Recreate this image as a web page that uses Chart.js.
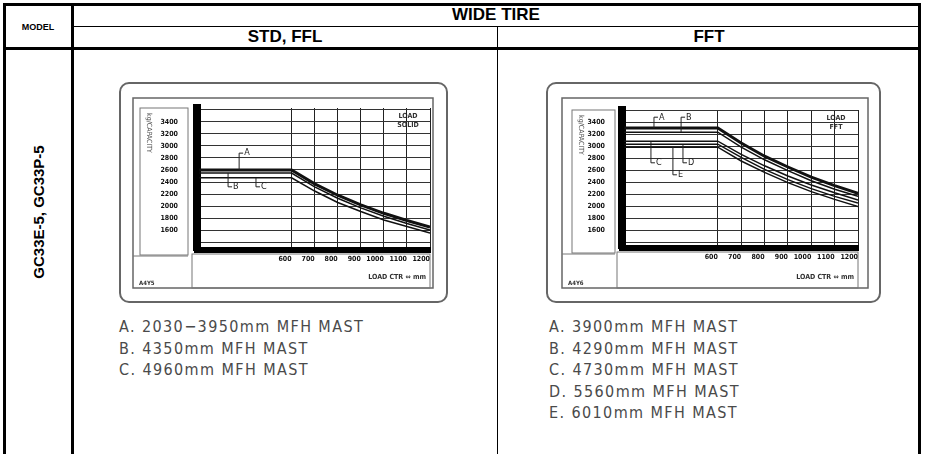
<!DOCTYPE html>
<html>
<head>
<meta charset="utf-8">
<script src="https://cdn.jsdelivr.net/npm/chart.js@4.4.1/dist/chart.umd.min.js"></script>
<style>
body { margin: 0; width: 927px; height: 454px; background: #fff; position: relative; overflow: hidden; font-family: 'Liberation Sans', Arial, sans-serif; }
.ln { position: absolute; background: #000; }
.hd { position: absolute; font-weight: bold; transform: translate(-50%, -50%); white-space: nowrap; color: #000; }
canvas { position: absolute; }
.legend { position: absolute; font-family: 'DejaVu Sans Condensed', sans-serif; font-size: 16px; color: #4a4a4a; line-height: 21.5px; white-space: nowrap; letter-spacing: 1.4px; }
</style>
</head>
<body>
<div class="ln" style="left:3px;top:3px;width:918px;height:3px"></div>
<div class="ln" style="left:3px;top:3px;width:3px;height:451px"></div>
<div class="ln" style="left:918px;top:3px;width:3px;height:451px"></div>
<div class="ln" style="left:71px;top:3px;width:3px;height:451px"></div>
<div class="ln" style="left:74px;top:26px;width:844px;height:1px"></div>
<div class="ln" style="left:3px;top:47px;width:918px;height:3px"></div>
<div class="ln" style="left:497px;top:26px;width:1px;height:428px"></div>

<div class="hd" style="left:38px;top:27px;font-size:9px">MODEL</div>
<div class="hd" style="left:496px;top:15px;font-size:17px">WIDE TIRE</div>
<div class="hd" style="left:285px;top:37px;font-size:17px">STD, FFL</div>
<div class="hd" style="left:709px;top:37px;font-size:17px">FFT</div>
<div class="hd" style="left:38px;top:212px;font-size:15px;transform:translate(-50%,-50%) rotate(-90deg)">GC33E-5, GC33P-5</div>

<canvas id="std" width="334" height="224" style="left:117px;top:81px;width:334px;height:224px"></canvas>
<canvas id="fft" width="337" height="224" style="left:545px;top:81px;width:337px;height:224px"></canvas>
<div class="legend" id="stdLegend" style="left:119px;top:316px"></div>
<div class="legend" id="fftLegend" style="left:549px;top:316px"></div>

<script>
// load center (mm) and capacity (kg)
const loadCenters = [200, 600, 700, 800, 900, 1000, 1100, 1200]
const xTickLabels = [600, 700, 800, 900, 1000, 1100, 1200]
const yTickLabels = [3400, 3200, 3000, 2800, 2600, 2400, 2200, 2000, 1800, 1600]
const yGridValues = [1400, 1600, 1800, 2000, 2200, 2400, 2600, 2800, 3000, 3200, 3400, 3600]

const stdMasts = ['A. 2030\u22123950mm MFH MAST', 'B. 4350mm MFH MAST', 'C. 4960mm MFH MAST']
const stdA = [2600, 2600, 2370, 2180, 2020, 1880, 1760, 1650]
const stdB = [2550, 2550, 2320, 2130, 1970, 1830, 1710, 1600]
const stdC = [2470, 2470, 2250, 2060, 1910, 1770, 1660, 1550]
const stdTags = ['A', 'B', 'C']
const stdTagX = [390, 342, 463]
const stdTagY = [2880, 2320, 2320]

const fftMasts = ['A. 3900mm MFH MAST', 'B. 4290mm MFH MAST', 'C. 4730mm MFH MAST', 'D. 5560mm MFH MAST', 'E. 6010mm MFH MAST']
const fftA = [3300, 3300, 3050, 2830, 2650, 2480, 2340, 2210]
const fftB = [3230, 3230, 2980, 2770, 2590, 2420, 2280, 2160]
const fftC = [3080, 3080, 2860, 2670, 2500, 2350, 2220, 2100]
const fftD = [3030, 3030, 2810, 2610, 2440, 2290, 2160, 2050]
const fftE = [2980, 2980, 2750, 2560, 2390, 2240, 2110, 1990]
const fftTags = ['A', 'B', 'C', 'D', 'E']
const fftTagX = [344, 460, 331, 468, 425]
const fftTagY = [3480, 3480, 2720, 2720, 2520]

const bezel = {
    id: 'bezel',
    beforeDraw(chart, args, o) {
        const { ctx, chartArea: a } = chart
        ctx.save()
        ctx.strokeStyle = '#666'
        ctx.lineWidth = 2
        ctx.beginPath()
        ctx.roundRect(o.outer[0], o.outer[1], o.outer[2] - o.outer[0], o.outer[3] - o.outer[1], 9)
        ctx.stroke()
        ctx.lineWidth = 1.5
        ctx.strokeRect(o.inner[0], o.inner[1], o.inner[2] - o.inner[0], o.inner[3] - o.inner[1])
        ctx.lineWidth = 1
        ctx.strokeStyle = '#777'
        // tick label boxes
        ctx.strokeRect(a.left - o.yBox[0], a.top, o.yBox[0] - o.yBox[1], a.bottom - a.top + 5)
        ctx.beginPath()
        ctx.moveTo(o.inner[0], a.bottom + 6)
        ctx.lineTo(a.left - o.yBox[1], a.bottom + 6)
        ctx.stroke()
        ctx.strokeRect(a.left - 5, a.bottom + 4, a.right - a.left + 5, o.inner[3] - a.bottom - 4)
        ctx.fillStyle = '#333'
        ctx.font = 'bold 7px "DejaVu Sans Condensed"'
        ctx.textAlign = 'center'
        ctx.textBaseline = 'middle'
        ctx.fillText(o.corner[0], a.right - 22, a.top + 8)
        ctx.fillText(o.corner[1], a.right - 22, a.top + 17)
        ctx.textAlign = 'right'
        ctx.fillText('LOAD CTR \u21d4 mm', a.right - 4, o.inner[3] - 11)
        ctx.textAlign = 'left'
        ctx.font = 'bold 6px "DejaVu Sans Condensed"'
        ctx.fillText(o.code, o.inner[0] + 6, o.inner[3] - 5)
        ctx.translate(a.left - o.yBox[0] + 9, a.top + 5)
        ctx.rotate(Math.PI / 2)
        ctx.font = '7px "DejaVu Sans Condensed"'
        ctx.fillStyle = '#555'
        ctx.fillText('kg/CAPACITY', 0, 0)
        ctx.restore()
    },
    afterDatasetsDraw(chart, args, o) {
        const { ctx, scales: { x, y } } = chart
        ctx.save()
        ctx.strokeStyle = '#222'
        ctx.fillStyle = '#222'
        ctx.lineWidth = 1
        ctx.font = '9px "DejaVu Sans Condensed"'
        ctx.textBaseline = 'middle'
        o.tags.forEach((t, i) => {
            const px = x.getPixelForValue(o.tagX[i])
            const py = y.getPixelForValue(o.tagY[i])
            const ly = y.getPixelForValue(chart.data.datasets[i].data[0].y)
            ctx.beginPath()
            ctx.moveTo(px - 4, ly)
            ctx.lineTo(px - 4, py)
            ctx.lineTo(px, py)
            ctx.stroke()
            ctx.fillText(t, px + 1, py)
        })
        ctx.restore()
    }
}

function series(values, width) {
    return {
        data: loadCenters.map((c, i) => ({ x: c, y: values[i] })),
        borderColor: '#111',
        borderWidth: width,
        pointRadius: 0,
        tension: 0,
        fill: false
    }
}

function makeChart(canvas, datasets, yMin, yMax, pad, yPad, plate) {
    return new Chart(canvas, {
        type: 'line',
        data: { datasets },
        options: {
            animation: false,
            responsive: false,
            devicePixelRatio: 1,
            layout: { padding: pad },
            plugins: { legend: { display: false }, tooltip: { enabled: false }, bezel: plate },
            scales: {
                x: {
                    type: 'linear', min: 190, max: 1200,
                    afterBuildTicks: s => { s.ticks = xTickLabels.map(v => ({ value: v })) },
                    afterFit: s => { s.height = 20 },
                    grid: { color: '#222', lineWidth: 1, drawTicks: false },
                    border: { color: '#000', width: 6 },
                    ticks: { padding: 5, align: 'end', maxRotation: 0, autoSkip: false, color: '#111',
                        font: { size: 7, weight: 'bold', family: 'DejaVu Sans Condensed' }, callback: v => v }
                },
                y: {
                    min: yMin, max: yMax,
                    afterBuildTicks: s => { s.ticks = yGridValues.map(v => ({ value: v })) },
                    afterFit: s => { s.width = 40 },
                    grid: { color: '#333', lineWidth: 1, drawTicks: false },
                    border: { color: '#000', width: 8 },
                    ticks: { padding: yPad, color: '#111', autoSkip: false,
                        font: { size: 7, weight: 'bold', family: 'DejaVu Sans Condensed' },
                        callback: v => yTickLabels.includes(v) ? v : '' }
                }
            }
        },
        plugins: [bezel]
    })
}

makeChart(document.getElementById('std'),
    [series(stdA, 3), series(stdB, 1.5), series(stdC, 1.5)],
    1270, 3630, { left: 40, top: 27, right: 21, bottom: 35 }, 19,
    { outer: [3, 2, 330, 221], inner: [16, 17, 316, 207], yBox: [57, 9], corner: ['LOAD', 'SOLID'], code: 'A4Y5',
      tags: stdTags, tagX: stdTagX, tagY: stdTagY })

makeChart(document.getElementById('fft'),
    [series(fftA, 3), series(fftB, 1.5), series(fftC, 1.5), series(fftD, 1.5), series(fftE, 1.5)],
    1300, 3600, { left: 37, top: 29, right: 24, bottom: 37 }, 17,
    { outer: [2, 2, 335, 221], inner: [17, 17, 323, 207], yBox: [50, 7], corner: ['LOAD', 'FFT'], code: 'A4Y6',
      tags: fftTags, tagX: fftTagX, tagY: fftTagY })

document.getElementById('stdLegend').innerHTML = stdMasts.map(t => `<div>${t}</div>`).join('')
document.getElementById('fftLegend').innerHTML = fftMasts.map(t => `<div>${t}</div>`).join('')
</script>
</body>
</html>
